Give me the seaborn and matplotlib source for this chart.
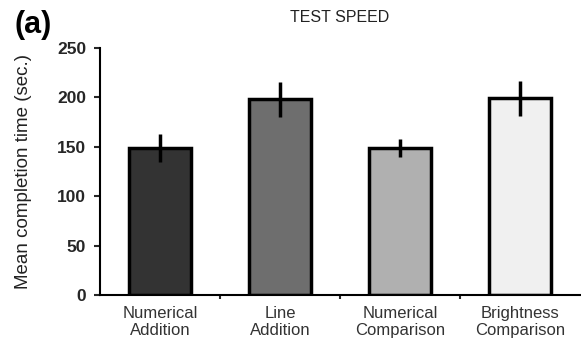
import matplotlib
matplotlib.use("Agg")
import matplotlib.pyplot as plt
import seaborn as sns
import numpy as np

categories = ["Numerical\nAddition", "Line\nAddition", "Numerical\nComparison", "Brightness\nComparison"]
means = [149, 198, 149, 199]
errors = [14, 18, 9, 18]
colors = ["#333333", "#6e6e6e", "#b0b0b0", "#f0f0f0"]
yticks = [0, 50, 100, 150, 200, 250]

sns.set_theme(style="white")
plt.rcParams['font.family'] = ['Liberation Sans', 'DejaVu Sans']

fig = plt.figure(figsize=(5.81, 3.44), dpi=100)
ax = fig.add_axes([100/581, 1-295/344, 480/581, (295-48)/344])

sns.barplot(x=categories, y=means, hue=categories, palette=colors, legend=False,
            width=0.52, edgecolor="black", linewidth=2.5, ax=ax, saturation=1)
ax.errorbar(x=np.arange(len(categories)), y=means, yerr=errors, fmt="none",
            ecolor="black", elinewidth=2.5, capsize=0)

ax.set_xlim(-0.5, 3.5)
ax.set_ylim(0, 250)
ax.set_yticks(yticks)
ax.set_yticklabels([str(t) for t in yticks], fontsize=12.5, fontweight="bold")
ax.set_xticks(np.arange(len(categories)))
ax.set_xticklabels(categories, fontsize=12, color="#333333", linespacing=1.15)
ax.set_xticks([0.5, 1.5, 2.5], minor=True)
ax.tick_params(axis="x", which="major", length=0, pad=8)
ax.tick_params(axis="x", which="minor", length=3, width=1.5, direction="out", bottom=True)
ax.tick_params(axis="y", which="major", length=4, width=1.5, direction="out", left=True, pad=6)

for s in ["top", "right"]:
    ax.spines[s].set_visible(False)
for s in ["left", "bottom"]:
    ax.spines[s].set_color("black")
    ax.spines[s].set_linewidth(1.5)

ax.set_ylabel("Mean completion time (sec.)", fontsize=13.5, color="#222222")
ax.yaxis.set_label_coords(-(100-32)/480, 0.5)
ax.set_xlabel("")
fig.text(340/581, 1-18/344, "TEST SPEED", ha="center", va="center", fontsize=11.5, color="#222222")
fig.text(15/581, 1-25/344, "(a)", ha="left", va="center", fontsize=22, fontweight="bold", color="black")

fig.savefig("out.png", dpi=100)
